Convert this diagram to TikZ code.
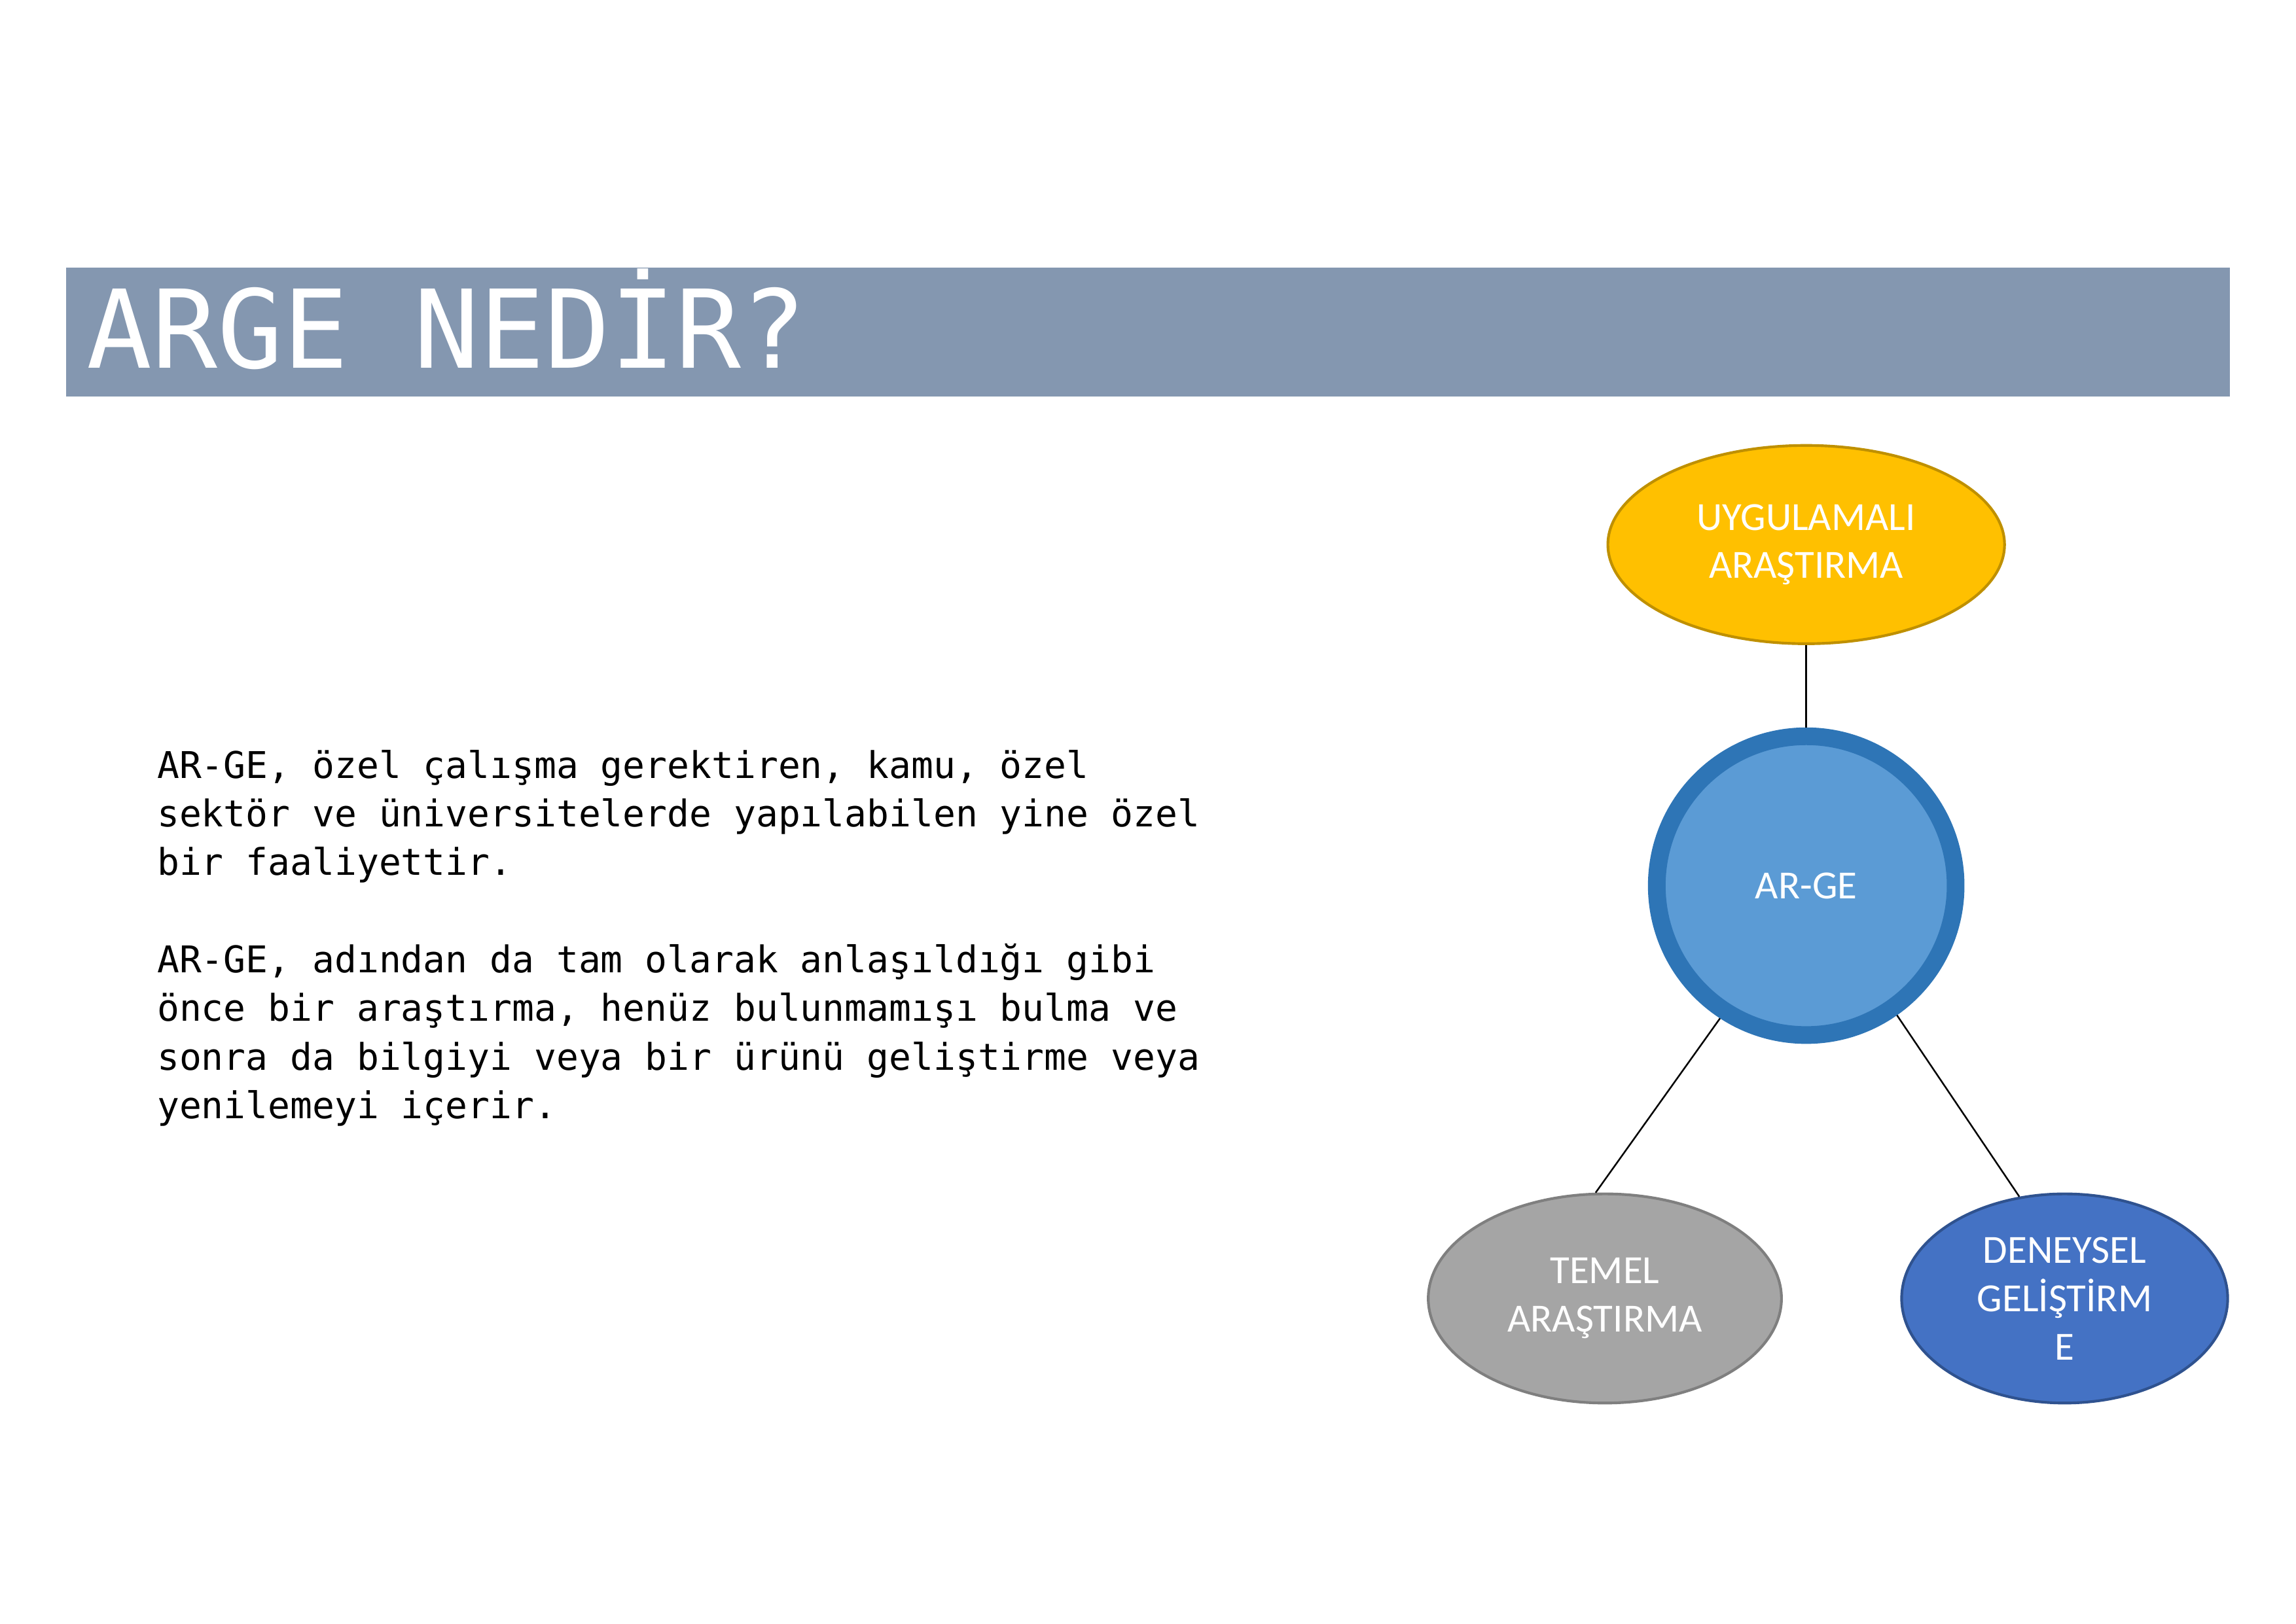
\documentclass[tikz,border=0pt]{standalone}
\usepackage{fontspec}
\setmainfont{Carlito}
\newfontfamily\monofont{DejaVu Sans Mono}
\usetikzlibrary{shapes.geometric}

\definecolor{barblue}{HTML}{8497B0}
\definecolor{goldfill}{HTML}{FFC000}
\definecolor{golddraw}{HTML}{BF9000}
\definecolor{centerfill}{HTML}{5B9BD5}
\definecolor{centerdraw}{HTML}{2E75B6}
\definecolor{greyfill}{HTML}{A5A5A5}
\definecolor{greydraw}{HTML}{7F7F7F}
\definecolor{bluefill}{HTML}{4472C4}
\definecolor{bluedraw}{HTML}{2F528F}

\tikzset{
  bubble/.style={ellipse, line width=1pt, inner sep=0pt, align=center,
    text=white, font=\fontsize{14.7}{17.8}\selectfont},
  link/.style={draw=black, line width=0.6pt}
}

\begin{document}
\begin{tikzpicture}[x=0.53892pt, y=-0.53892pt]
  \useasboundingbox (0,0) rectangle (1568,1109);

  % header band
  \fill[barblue] (45,183) rectangle (1523,271);
  \node[anchor=base west, inner sep=0pt, text=white,
        font=\monofont\fontsize{40}{48}\selectfont] (title) at (59,251.5) {ARGE NEDİR?};

  % body text
  \node[anchor=base west, inner sep=0pt, font=\monofont\fontsize{13.56}{17.9}\selectfont] (body) at (107,531.6)
  {\vtop{\baselineskip=17.9pt
    \hbox{AR-GE, özel çalışma gerektiren, kamu, özel}
    \hbox{sektör ve üniversitelerde yapılabilen yine özel}
    \hbox{bir faaliyettir.}
    \hbox{}
    \hbox{AR-GE, adından da tam olarak anlaşıldığı gibi}
    \hbox{önce bir araştırma, henüz bulunmamışı bulma ve}
    \hbox{sonra da bilgiyi veya bir ürünü geliştirme veya}
    \hbox{yenilemeyi içerir.}}};

  % diagram
  \node[bubble, fill=goldfill, draw=golddraw, minimum width=146pt, minimum height=73pt]
    (uyg) at (1233.5,372) {UYGULAMALI\\ARAŞTIRMA};
  \node[circle, fill=centerfill, draw=centerdraw, line width=6.5pt, minimum size=110pt,
        inner sep=0pt, text=white, font=\fontsize{14.7}{17.8}\selectfont]
    (arge) at (1233.5,605) {AR-GE};
  \node[bubble, fill=greyfill, draw=greydraw, minimum width=130pt, minimum height=77pt]
    (temel) at (1096,887) {TEMEL\\ARAŞTIRMA};
  \node[bubble, fill=bluefill, draw=bluedraw, minimum width=120pt, minimum height=77pt]
    (deney) at (1410,887) {DENEYSEL\\GELİŞTİRM\\E};

  \draw[link] (uyg) -- (arge);
  \draw[link] (arge.237) -- (temel.95);
  \draw[link] (arge.305) -- (deney.114);
\end{tikzpicture}
\end{document}
